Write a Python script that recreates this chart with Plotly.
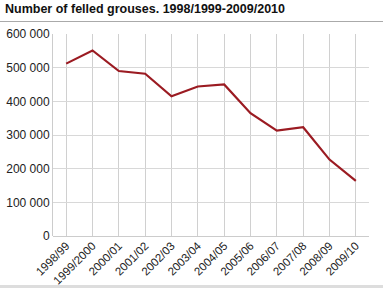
import plotly.graph_objects as go

seasons = ["1998/99", "1999/2000", "2000/01", "2001/02", "2002/03", "2003/04",
           "2004/05", "2005/06", "2006/07", "2007/08", "2008/09", "2009/10"]
felled = [512000, 551000, 490000, 482000, 415000, 444000,
          450000, 365000, 313000, 323000, 227000, 164000]
y_ticks = [0, 100000, 200000, 300000, 400000, 500000, 600000]

W, H = 383, 288
ml, mr, mt, mb = 53, 14, 34, 52
pw, ph = W - ml - mr, H - mt - mb

def px(x):
    return (x - ml) / pw

def py(y):
    return (H - mb - y) / ph

fig = go.Figure()
fig.add_trace(go.Scatter(x=seasons, y=felled, mode="lines",
                         line=dict(color="#9b1b22", width=2.2)))

fig.update_layout(
    template="none",
    width=W, height=H,
    margin=dict(l=ml, r=mr, t=mt, b=mb, pad=0),
    paper_bgcolor="white", plot_bgcolor="white",
    showlegend=False,
    separators=", ",
    font=dict(family="Liberation Sans, Arial, sans-serif", size=12, color="#222"),
    title=dict(text="<b>Number of felled grouses. 1998/1999-2009/2010</b>",
               x=5 / W, xanchor="left", y=1 - 9 / H, yanchor="middle",
               font=dict(size=12.5, color="#111")),
    xaxis=dict(type="category", tickangle=-45, showgrid=True, gridcolor="#d0d0d0",
               gridwidth=1, ticks="", showline=False, zeroline=False,
               tickfont=dict(size=11.5, color="#222"), range=[-0.5, 11.5]),
    yaxis=dict(range=[0, 600000], tickvals=y_ticks, tickformat=",d",
               showgrid=True, gridcolor="#d8d8d8", gridwidth=1,
               showline=True, linecolor="#cccccc", linewidth=1,
               zeroline=True, zerolinecolor="#cccccc", zerolinewidth=1,
               ticks="", ticklen=0, tickfont=dict(size=12, color="#222")),
    shapes=[
        dict(type="line", xref="paper", yref="paper", x0=px(0), x1=px(W),
             y0=py(21.5), y1=py(21.5), line=dict(color="#aaaaaa", width=1)),
        dict(type="rect", xref="paper", yref="paper", x0=px(0), x1=px(W),
             y0=py(285), y1=py(288), line=dict(width=0), fillcolor="#dddddd"),
    ],
)

fig.write_html("out.html")
